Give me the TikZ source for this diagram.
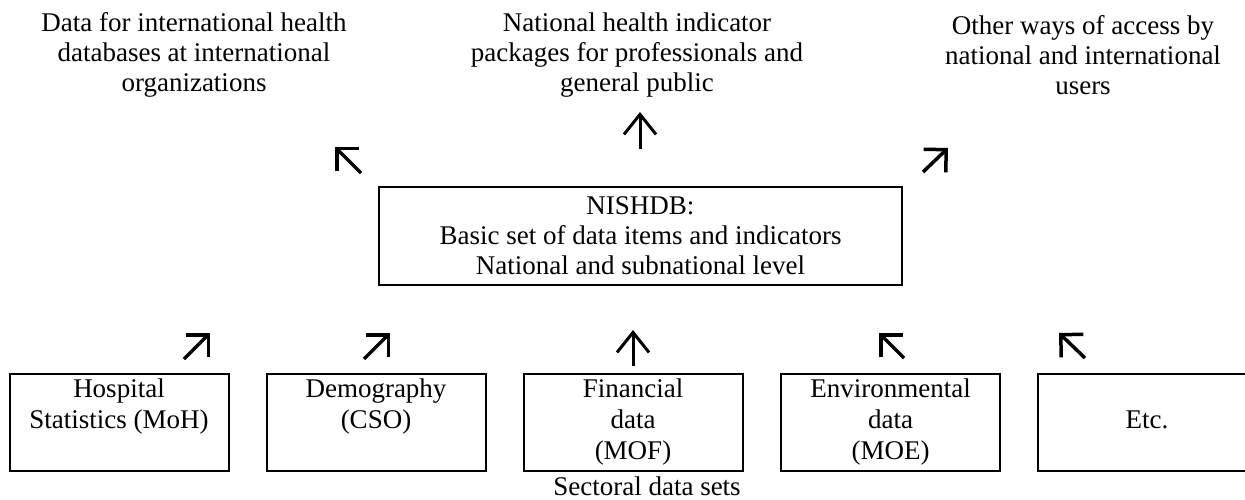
\documentclass[tikz,border=0pt]{standalone}
\usepackage{fontspec}
\setmainfont{Liberation Serif}
\usetikzlibrary{arrows.meta}
\begin{document}
\begin{tikzpicture}[x=1pt,y=-1pt,
  txt/.style={align=center, font=\fontsize{27}{30}\selectfont, inner sep=0pt},
  boxline/.style={draw, line width=2pt},
  sbox/.style={boxline, minimum width=219pt, minimum height=97pt, align=center,
    font=\fontsize{27}{31}\selectfont, inner sep=0pt},
  dbox/.style={boxline, minimum width=523pt, minimum height=98pt, align=center,
    font=\fontsize{27}{30}\selectfont, inner sep=0pt},
  diag/.style={line width=3.5pt, -{Straight Barb[length=16pt,width=32pt]}},
  vert/.style={line width=3pt, -{Straight Barb[length=20pt,width=32pt]}},
]
\useasboundingbox (0,0) rectangle (1245,500);
\clip (0,0) rectangle (1245,500);

% top texts
\node[txt] (t1) at (194,55) {Data for international health\\databases at international\\organizations};
\node[txt] (t2) at (637,55) {National health indicator\\packages for professionals and\\general public};
\node[txt] (t3) at (1083,55) {Other ways of access by\\national and international\\users};

% central database
\node[dbox] (db) at (640.5,236) {NISHDB:\\Basic set of data items and indicators\\National and subnational level};

% sectoral boxes
\node[sbox] (h) at (119,422) {\strut Hospital\\\strut Statistics (MoH)\\\strut};
\node[sbox] (d) at (376,422) {\strut Demography\\\strut (CSO)\\\strut};
\node[sbox] (f) at (633,422) {\strut Financial\\\strut data\\\strut (MOF)};
\node[sbox] (e) at (890.5,422) {\strut Environmental\\\strut data\\\strut (MOE)};
\node[sbox] (x) at (1147,422) {\strut\\\strut Etc.\\\strut};

\node[txt] (sec) at (647,486) {Sectoral data sets};

% upper arrows
\coordinate (u1s) at (361,173); \coordinate (u1e) at (335,147);
\coordinate (u2s) at (640,149); \coordinate (u2e) at (640,112);
\coordinate (u3s) at (923,172); \coordinate (u3e) at (948,148);
\draw[diag] (u1s) -- (u1e);
\draw[vert] (u2s) -- (u2e);
\draw[diag] (u3s) -- (u3e);

% lower arrows
\coordinate (l1s) at (184,359); \coordinate (l1e) at (210,333);
\coordinate (l2s) at (364,359); \coordinate (l2e) at (390,333);
\coordinate (l3s) at (633,366); \coordinate (l3e) at (633,330);
\coordinate (l4s) at (904,358); \coordinate (l4e) at (879,333);
\coordinate (l5s) at (1085,358); \coordinate (l5e) at (1059,333);
\draw[diag] (l1s) -- (l1e);
\draw[diag] (l2s) -- (l2e);
\draw[vert] (l3s) -- (l3e);
\draw[diag] (l4s) -- (l4e);
\draw[diag] (l5s) -- (l5e);
\end{tikzpicture}
\end{document}
